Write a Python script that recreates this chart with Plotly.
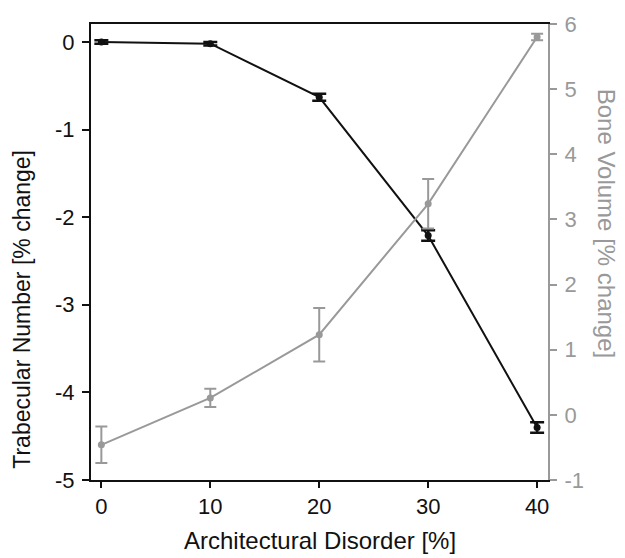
import plotly.graph_objects as go

disorder = [0, 10, 20, 30, 40]
trab_number = [0.0, -0.02, -0.63, -2.21, -4.40]
trab_err = [0.02, 0.02, 0.04, 0.06, 0.06]
bone_volume = [-0.46, 0.26, 1.23, 3.24, 5.80]
bone_err = [0.28, 0.14, 0.41, 0.38, 0.05]

x_ticks = [0, 10, 20, 30, 40]
left_ticks = [0, -1, -2, -3, -4, -5]
right_ticks = [-1, 0, 1, 2, 3, 4, 5, 6]

BLACK = "#111111"
GRAY = "#999999"
FONT = "Liberation Sans, Arial, sans-serif"

fig = go.Figure()

fig.add_trace(go.Scatter(
    x=disorder, y=bone_volume, yaxis="y2", mode="lines+markers",
    line=dict(color=GRAY, width=2), marker=dict(color=GRAY, size=7),
    error_y=dict(type="data", array=bone_err, color=GRAY, thickness=2, width=6),
    showlegend=False,
))
fig.add_trace(go.Scatter(
    x=disorder, y=trab_number, yaxis="y", mode="lines+markers",
    line=dict(color=BLACK, width=2), marker=dict(color=BLACK, size=7),
    error_y=dict(type="data", array=trab_err, color=BLACK, thickness=2.5, width=7),
    showlegend=False,
))

fig.update_layout(
    width=625, height=558,
    margin=dict(l=91, r=77, t=22, b=78),
    paper_bgcolor="white", plot_bgcolor="white",
    font=dict(family=FONT, size=22, color=BLACK),
    xaxis=dict(
        range=[-0.95, 41], tickvals=x_ticks, ticktext=[str(v) for v in x_ticks],
        ticks="outside", ticklen=6,
        tickwidth=2, tickcolor=BLACK, showline=True, linecolor=BLACK,
        linewidth=2, mirror=True, showgrid=False, zeroline=False,
        tickfont=dict(size=22, color=BLACK), ticklabelstandoff=0,
    ),
    yaxis=dict(
        range=[-5, 0.205], tickvals=left_ticks, ticktext=[str(v) for v in left_ticks],
        ticks="outside", ticklen=7,
        tickwidth=2, tickcolor=BLACK, showline=True, linecolor=BLACK,
        linewidth=2, showgrid=False, zeroline=False,
        tickfont=dict(size=22, color=BLACK), ticklabelstandoff=3,
    ),
    yaxis2=dict(
        range=[-1, 6], tickvals=right_ticks, ticktext=[str(v) for v in right_ticks],
        ticks="outside", ticklen=7,
        tickwidth=2, tickcolor=GRAY, showline=True, linecolor=GRAY,
        linewidth=2, showgrid=False, zeroline=False, overlaying="y",
        side="right", tickfont=dict(size=22, color=GRAY), ticklabelstandoff=3,
    ),
    annotations=[
        dict(text="Architectural Disorder [%]", xref="paper", yref="paper",
             x=0.5, y=-0.133, xanchor="center", yanchor="middle",
             showarrow=False, font=dict(size=24, color=BLACK)),
        dict(text="Trabecular Number [% change]", xref="paper", yref="paper",
             x=-0.151, y=0.3755, xanchor="center", yanchor="middle",
             textangle=-90, showarrow=False, font=dict(size=23, color=BLACK)),
        dict(text="Bone Volume [% change]", xref="paper", yref="paper",
             x=1.128, y=0.561, xanchor="center", yanchor="middle",
             textangle=90, showarrow=False, font=dict(size=24, color=GRAY)),
    ],
)

fig.write_html("out.html")
